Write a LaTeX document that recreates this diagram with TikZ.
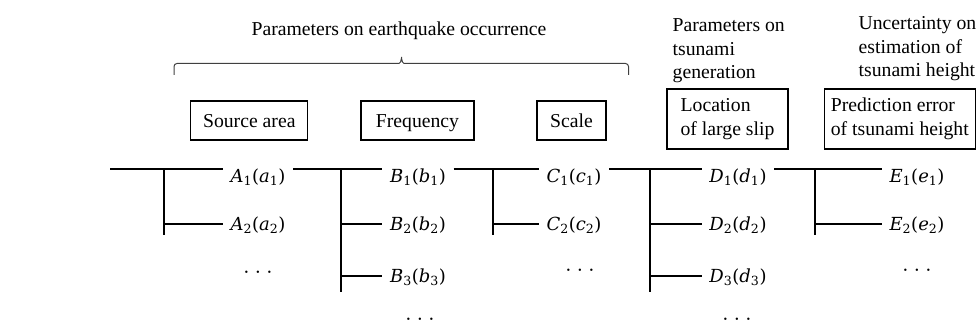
\RequirePackage{fix-cm}
\documentclass[tikz,border=0pt]{standalone}
\usepackage{fontspec}
\setmainfont{Liberation Serif}
\newfontfamily\valfont{DejaVu Serif}

% parameter value, e.g. \parval{A}{a}{1}
\newcommand{\parval}[3]{{\valfont\itshape #1\textsubscript{\upshape #3}\upshape(\itshape #2\textsubscript{\upshape #3}\upshape)}}
\newcommand{\moredots}{{\valfont ·\hspace{0.32em}·\hspace{0.32em}·}}

\tikzset{
  parbox/.style={draw, inner sep=0pt, minimum height=39pt, text height=13.5pt, text depth=0pt},
  twobox/.style={draw, align=left, inner sep=0pt, minimum height=60pt},
  head/.style={align=left, inner sep=0pt, anchor=north west},
  val/.style={font=\fontsize{18}{20}\selectfont, inner xsep=7pt, inner ysep=0pt, text height=13pt, text depth=0pt},
  dots/.style={val, text height=4pt},
}

\begin{document}
\begin{tikzpicture}[x=1pt,y=-1pt,font=\fontsize{19.7}{23.5}\selectfont,line width=1.3pt]
\useasboundingbox (0,0) rectangle (977,329);

% headings
\node[inner sep=0pt, anchor=base] (eqhead) at (399,35.5) {Parameters on earthquake occurrence};
\draw[line width=1pt, black!75, rounded corners=3pt] (174,75) -- (174,63.5) -- (396,63.5)
  .. controls (400,63.5) and (401.5,61) .. (401.5,55)
  .. controls (401.5,61) and (403,63.5) .. (407,63.5) -- (628.5,63.5) -- (628.5,75);
\node[head] (tsuhead) at (672,18) {Parameters on\\tsunami\\generation};
\node[head] (unchead) at (858,16) {Uncertainty on\\estimation of\\tsunami height};

% parameter boxes
\node[parbox, minimum width=117pt] (src) at (249.3,120.5) {Source area};
\node[parbox, minimum width=113pt] (freq) at (417.5,120.5) {Frequency};
\node[parbox, minimum width=69pt] (scale) at (571.5,120.5) {Scale};
\node[twobox, minimum width=121pt] (loc) at (727.5,119) {Location\\of large slip};
\node[twobox, minimum width=151pt] (pred) at (899.8,119) {Prediction error\\of tsunami height};

% branches
\node[val] (A1) at (258,176) {\parval{A}{a}{1}};
\node[val] (A2) at (258,224) {\parval{A}{a}{2}};
\node[dots] (A3) at (258,276) {\moredots};
\node[val] (B1) at (418,176) {\parval{B}{b}{1}};
\node[val] (B2) at (418,224) {\parval{B}{b}{2}};
\node[val] (B3) at (418,276) {\parval{B}{b}{3}};
\node[dots] (B4) at (420,323.5) {\moredots};
\node[val] (C1) at (574,176) {\parval{C}{c}{1}};
\node[val] (C2) at (574,224) {\parval{C}{c}{2}};
\node[dots] (C3) at (580,274) {\moredots};
\node[val] (D1) at (738,176) {\parval{D}{d}{1}};
\node[val] (D2) at (738,224) {\parval{D}{d}{2}};
\node[val] (D3) at (738,276) {\parval{D}{d}{3}};
\node[dots] (D4) at (737,323.5) {\moredots};
\node[val] (E1) at (917,176) {\parval{E}{e}{1}};
\node[val] (E2) at (917,224) {\parval{E}{e}{2}};
\node[dots] (E3) at (917,274) {\moredots};

\coordinate (st) at (110,169);
\coordinate (tA) at (164,169);
\coordinate (bA) at (164,235);
\coordinate (tB) at (341,169);
\coordinate (bB) at (341,292);
\coordinate (tC) at (493,169);
\coordinate (bC) at (493,235);
\coordinate (tD) at (650,169);
\coordinate (bD) at (650,292);
\coordinate (tE) at (815,169);
\coordinate (bE) at (815,235);

\draw (st) -- (st -| A1.west);
\draw (A1.north east) -- (B1.north west);
\draw (B1.north east) -- (C1.north west);
\draw (C1.north east) -- (D1.north west);
\draw (D1.north east) -- (E1.north west);

\draw (tA) -- (bA);
\draw (tA |- A2) -- (A2.west);
\draw (tB) -- (bB);
\draw (tB |- B2) -- (B2.west);
\draw (tB |- B3) -- (B3.west);
\draw (tC) -- (bC);
\draw (tC |- C2) -- (C2.west);
\draw (tD) -- (bD);
\draw (tD |- D2) -- (D2.west);
\draw (tD |- D3) -- (D3.west);
\draw (tE) -- (bE);
\draw (tE |- E2) -- (E2.west);
\end{tikzpicture}
\end{document}
